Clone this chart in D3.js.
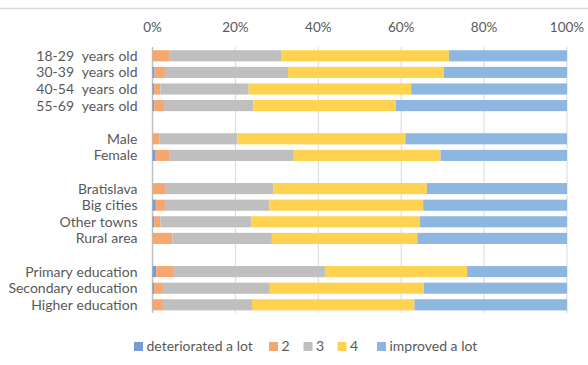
<!DOCTYPE html>
<html><head><meta charset="utf-8">
<script src="https://cdn.jsdelivr.net/npm/d3@7"></script>
<style>
html,body{margin:0;padding:0;background:#fff;}
svg{display:block;font-family:Lato,"Open Sans",sans-serif;}
</style></head>
<body>
<svg id="chart" width="588" height="365"></svg>
<script>
const categories = ["18-29  years old","30-39  years old","40-54  years old","55-69  years old","",
  "Male","Female","",
  "Bratislava","Big cities","Other towns","Rural area","",
  "Primary education","Secondary education","Higher education"];
const seriesNames = ["deteriorated a lot","2","3","4","improved a lot"];
const deteriorated = [0,0.5,0.4,0.4,null,0,0.6,null,0,0.8,0.4,0,null,0.9,0.4,0];
const s2 = [4.0,2.5,1.5,2.4,null,1.6,3.4,null,3.0,2.2,1.5,4.8,null,4.3,2.1,2.5];
const s3 = [27.0,29.7,21.3,21.5,null,18.9,30.1,null,26.1,25.2,21.9,24.0,null,36.4,25.8,21.5];
const s4 = [40.5,37.6,39.2,34.4,null,40.5,35.4,null,37.1,37.1,40.7,35.1,null,34.3,37.1,39.2];
const improved = [28.5,29.7,37.6,41.3,null,39.0,30.5,null,33.8,34.7,35.5,36.1,null,24.1,34.6,36.8];
const tickValues = [0,20,40,60,80,100];
const colors = ["#7A9BD6","#F4A870","#BFBFBF","#FFD34F","#8DB7E0"];

const svg = d3.select("#chart");
const keys = categories.map((c,i)=> c===""? "gap"+i : c);
const x = d3.scaleLinear().domain([0,100]).range([152.5,567]);
const y = d3.scaleBand().domain(keys).range([47.5,313.1]).paddingInner(0.33).paddingOuter(0.165);

// top border line
svg.append("line").attr("x1",0).attr("x2",588).attr("y1",8.5).attr("y2",8.5)
  .attr("stroke","#D9D9D9").attr("stroke-width",1.5);

// gridlines
svg.append("g").selectAll("line").data(tickValues).join("line")
  .attr("x1",d=>x(d)).attr("x2",d=>x(d)).attr("y1",47).attr("y2",313)
  .attr("stroke",d=>d===0?"#BFBFBF":"#D9D9D9").attr("stroke-width",d=>d===0?1.5:1);

// tick labels
svg.append("g").selectAll("text").data(tickValues).join("text")
  .attr("x",d=>x(d)).attr("y",32).attr("text-anchor","middle")
  .attr("font-size",13.5).attr("fill","#595959").text(d=>d+"%");

// stacked data
const rows = categories.map((c,i)=>({key:keys[i], vals:[deteriorated[i],s2[i],s3[i],s4[i],improved[i]]}))
  .filter(r=>r.vals[0]!==null);
const segs = [];
rows.forEach(r=>{
  let cum=0;
  r.vals.forEach((v,j)=>{ segs.push({key:r.key,j,x0:cum,x1:cum+v}); cum+=v; });
});
svg.append("g").selectAll("rect").data(segs.filter(s=>s.x1>s.x0)).join("rect")
  .attr("x",d=>x(d.x0)).attr("width",d=>x(d.x1)-x(d.x0))
  .attr("y",d=>y(d.key)).attr("height",y.bandwidth())
  .attr("fill",d=>colors[d.j]);

// category labels
svg.append("g").selectAll("text").data(categories.map((c,i)=>({c,k:keys[i],i})).filter(d=>d.c!==""))
  .join("text").attr("x",137.5).attr("y",d=>y(d.k)+y.bandwidth()/2).attr("dy","0.35em")
  .attr("text-anchor","end").attr("font-size",14).attr("fill","#595959")
  .style("white-space","pre").style("word-spacing",d=>d.i<4?"0.5px":"0.5px").text(d=>d.c);

// legend
const legX = [134,269,303.5,337.5,377];
const lg = svg.append("g").selectAll("g").data(seriesNames).join("g")
  .attr("transform",(d,i)=>`translate(${legX[i]},346.5)`);
lg.append("rect").attr("x",0).attr("y",-4.5).attr("width",9).attr("height",9).attr("fill",(d,i)=>colors[i]);
lg.append("text").attr("x",12.5).attr("dy","0.35em").attr("font-size",14).attr("fill","#595959")
  .text(d=>d);
</script>
</body></html>
